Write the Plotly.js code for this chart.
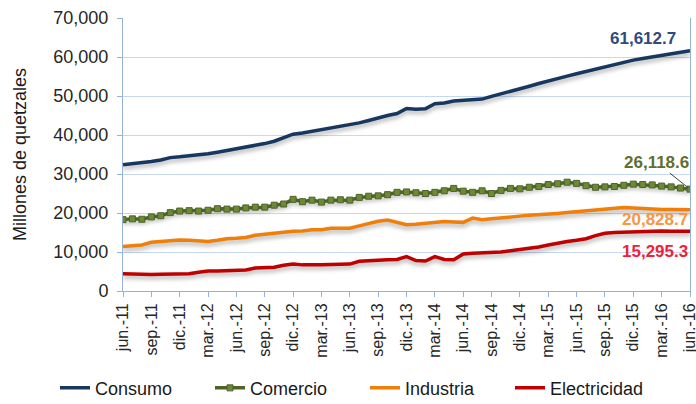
<!DOCTYPE html>
<html>
<head>
<meta charset="utf-8">
<script src="https://cdn.plot.ly/plotly-3.0.1.min.js"></script>
<style>
  html, body { margin: 0; padding: 0; background: #fff; }
  #chart { width: 696px; height: 404px; }
  .scatterlayer .trace path.js-line { filter: drop-shadow(0px 3px 2px rgba(0,0,0,0.30)); }
</style>
</head>
<body>
<div id="chart"></div>
<script>
// Monthly months jun-11 .. jun-16 (61 points, index 0..60)
const monthIndex = Array.from({length: 61}, (_, i) => i);
const tickPositions = [0,3,6,9,12,15,18,21,24,27,30,33,36,39,42,45,48,51,54,57,60];
const tickLabels = ["jun.-11","sep.-11","dic.-11","mar.-12","jun.-12","sep.-12","dic.-12","mar.-13","jun.-13","sep.-13","dic.-13","mar.-14","jun.-14","sep.-14","dic.-14","mar.-15","jun.-15","sep.-15","dic.-15","mar.-16","jun.-16"];
const seriesNames = ["Consumo", "Comercio", "Industria", "Electricidad"];

const consumo = [32400,32600,32900,33200,33600,34200,34400,34600,34900,35200,
                 35600,36000,36400,36800,37300,37800,38400,39300,40200,40500,
                 40900,41300,41700,42100,42600,43100,43700,44400,45000,45500,
                 46800,46600,46700,48000,48200,48700,48900,49000,49200,49900,
                 50500,51100,51800,52500,53200,53900,54500,55100,55700,56300,
                 56900,57500,58200,58800,59200,59600,60000,60400,60800,61200,
                 61612.7];
const comercio = [18300,18500,18400,19000,19300,20100,20500,20600,20500,20700,
                  21100,21000,21000,21300,21500,21500,22000,22300,23500,22900,
                  23300,22800,23300,23400,23300,24000,24300,24400,24700,25300,
                  25400,25200,25000,25300,25700,26300,25600,25300,25700,25000,
                  25800,26300,26200,26600,26800,27300,27500,27900,27600,27000,
                  26600,26700,26800,27100,27400,27300,27200,26900,26700,26400,
                  26118.6];
const industria = [11400,11600,11800,12500,12700,13000,13100,13000,12900,12700,
                   13000,13400,13500,13700,14300,14600,14800,15200,15300,15400,
                   15700,15700,16100,16100,16100,16700,17400,17900,18200,17700,
                   17000,17100,17300,17500,17800,17700,17600,18700,18300,18500,
                   18800,19000,19200,19400,19500,19700,19900,20100,20300,20500,
                   20700,20900,21100,21400,21300,21100,21000,20900,20900,20850,
                   20828.7];
const electricidad = [4400,4300,4300,4200,4300,4300,4300,4400,4800,5100,
                      5100,5200,5300,5400,5900,6000,6100,6600,6900,6700,
                      6600,6700,6800,6800,6900,7600,7800,7900,8000,8100,
                      8800,7800,7700,8800,8100,8000,9500,9700,9800,9800,
                      10000,10300,10600,10900,11300,11800,12300,12700,13000,13400,
                      14200,14800,15000,15100,15300,15400,15400,15400,15350,15300,
                      15295.3];

const FONT = "Liberation Sans, Arial, sans-serif";
const last = monthIndex.length - 1;
const fmt = v => v.toLocaleString("en-US", {minimumFractionDigits: 1, maximumFractionDigits: 1});

const traces = [
  {x: monthIndex, y: consumo, name: seriesNames[0], mode: "lines", legend: "legend",
   line: {color: "#17375E", width: 3.5}},
  {x: monthIndex, y: comercio, name: seriesNames[1], mode: "lines+markers", legend: "legend2",
   line: {color: "#4F6228", width: 3.5},
   marker: {symbol: "square", size: 6, color: "#6B8A35", line: {color: "#4F6228", width: 1}}},
  {x: monthIndex, y: industria, name: seriesNames[2], mode: "lines", legend: "legend3",
   line: {color: "#F07F09", width: 3.5}},
  {x: monthIndex, y: electricidad, name: seriesNames[3], mode: "lines", legend: "legend4",
   line: {color: "#C00000", width: 3.5}}
];

function legendAt(px) {
  return {orientation: "h", xref: "container", yref: "container",
          x: px / 696, xanchor: "left", y: 0.085, yanchor: "top",
          font: {family: FONT, size: 18, color: "#1a1a1a"}, bgcolor: "rgba(0,0,0,0)"};
}

const layout = {
  width: 696, height: 404,
  margin: {l: 123, r: 6, t: 18, b: 112.5, autoexpand: false},
  paper_bgcolor: "#fff", plot_bgcolor: "#fff",
  font: {family: FONT, size: 16, color: "#262626"},
  showlegend: true,
  legend: legendAt(55),
  legend2: legendAt(210),
  legend3: legendAt(365),
  legend4: legendAt(510),
  xaxis: {range: [0, 60], tickmode: "array", tickvals: tickPositions, ticktext: tickLabels,
          tickangle: -90, tickfont: {family: FONT, size: 16, color: "#262626"},
          ticklabeloverflow: "allow", automargin: false,
          ticks: "outside", ticklen: 5, tickcolor: "#95B3D7", tickwidth: 1,
          showline: true, linecolor: "#95B3D7", linewidth: 1,
          showgrid: false, zeroline: false, fixedrange: true},
  yaxis: {range: [0, 70000], dtick: 10000, tickformat: ",d", automargin: false,
          tickfont: {family: FONT, size: 18, color: "#262626"}, ticklabelstandoff: 5,
          ticks: "outside", ticklen: 5, tickcolor: "#95B3D7",
          showline: true, mirror: true, linecolor: "#95B3D7", linewidth: 1,
          showgrid: true, gridcolor: "#C6D9F1", gridwidth: 1, zeroline: false,
          title: {text: "Millones de quetzales", font: {family: FONT, size: 18, color: "#1a1a1a"}, standoff: 22},
          fixedrange: true},
  annotations: [
    {x: 58.7, y: 64760, xref: "x", yref: "y", text: "<b>" + fmt(consumo[last]) + "</b>",
     showarrow: false, xanchor: "right", yanchor: "middle",
     font: {family: FONT, size: 17, color: "#2E4B7C"}},
    {x: last, y: comercio[last], xref: "x", yref: "y", text: "<b>" + fmt(comercio[last]) + "</b>",
     showarrow: true, arrowhead: 0, arrowwidth: 1, arrowcolor: "#404040", ax: -34, ay: -27,
     standoff: 2, font: {family: FONT, size: 17, color: "#5F6F2E"}},
    {x: 60, y: 18300, xref: "x", yref: "y", text: "<b>" + fmt(industria[last]) + "</b>",
     showarrow: false, xanchor: "right", yanchor: "middle",
     font: {family: FONT, size: 17, color: "#F79646"}},
    {x: 60, y: 10100, xref: "x", yref: "y", text: "<b>" + fmt(electricidad[last]) + "</b>",
     showarrow: false, xanchor: "right", yanchor: "middle",
     font: {family: FONT, size: 17, color: "#F0203A"}}
  ]
};

Plotly.newPlot("chart", traces, layout, {displayModeBar: false, staticPlot: true});
</script>
</body>
</html>
